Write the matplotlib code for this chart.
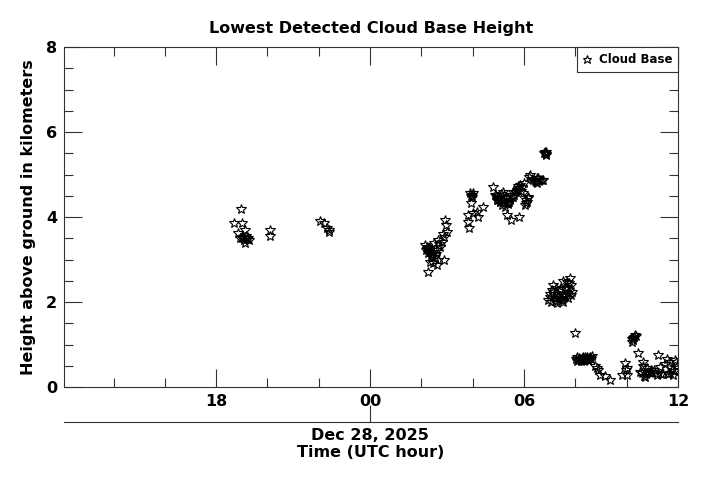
import numpy as np
import matplotlib
matplotlib.use("Agg")
import matplotlib.pyplot as plt
from matplotlib.ticker import MultipleLocator, FixedLocator

plt.rcParams['font.family'] = ['DejaVu Sans']
plt.rcParams['font.weight'] = 'bold'

# hours relative to 00 UTC Dec 28, 2025 ; cloud base height in km
hours = [
    # evening of Dec 27
    -5.29, -5.05, -5.01, -4.86, -5.13, -5.06, -4.94, -4.80, -4.71, -4.87, -4.98, -4.90,
    -5.00, -4.84, -4.76,
    -3.92, -3.90,
    -1.95, -1.79, -1.62, -1.59, -1.70,
    # 02-03 UTC
    2.27, 2.21, 2.34, 2.27, 2.40, 2.53, 2.66, 2.86, 2.73, 2.79, 2.86, 2.99, 2.92, 2.96,
    2.47, 2.60, 2.14, 2.61, 2.35, 2.30, 2.50, 2.20, 2.25, 2.42, 2.56, 2.70, 2.18, 2.38,
    2.45, 2.33, 2.64, 2.83,
    # 04 UTC
    3.90, 3.96, 4.02, 3.94, 3.83, 3.83, 3.87, 4.02, 4.16, 4.22, 4.41, 3.92, 3.98,
    # 05-06 UTC
    4.80, 4.87, 4.94, 5.06, 5.19, 5.26, 5.39, 5.45, 5.58, 5.71, 5.84, 5.97, 6.10, 6.17,
    6.04, 6.23, 6.36, 6.56, 6.69, 6.49, 5.32, 5.49, 5.82, 4.99, 5.13, 5.00, 5.10, 5.30,
    5.65, 5.90, 6.00, 6.30, 6.60, 4.90, 5.04, 5.16, 5.22, 5.36, 5.52, 5.60, 5.68, 5.76,
    5.88, 6.06, 6.14, 6.42, 6.52, 6.62, 6.72, 5.42, 5.55, 5.78, 6.08, 6.20, 6.45, 4.95,
    5.08, 5.28,
    6.82, 6.85, 6.80, 6.84, 6.78, 6.87,
    # 07-08 UTC
    7.01, 7.14, 6.95, 7.27, 7.34, 7.53, 7.66, 7.79, 7.53, 7.86, 7.73, 7.47, 7.14, 7.20,
    7.40, 7.60, 7.05, 7.82, 7.10, 7.22, 7.30, 7.38, 7.44, 7.56, 7.63, 7.70, 7.76, 7.84,
    7.00, 7.25, 7.50, 7.68, 7.35, 7.58,
    7.99,
    8.05, 8.18, 8.38, 8.50, 8.64, 8.11, 8.31, 8.25, 8.45, 8.08, 8.14, 8.22, 8.28, 8.34,
    8.42, 8.48, 8.55, 8.60, 8.02, 8.20, 8.36, 8.58,
    8.77, 8.89, 8.96, 9.16, 9.35, 8.83,
    10.26, 10.32, 10.19, 10.29, 10.22, 10.35, 10.24,
    9.93, 10.00, 9.81, 10.00, 10.45, 10.58, 10.65, 10.78, 10.84, 10.71, 11.17, 11.23,
    11.30, 11.56, 11.75, 11.88, 11.82, 10.50, 10.95, 11.40, 11.95, 9.96, 10.62, 10.74,
    10.90, 11.05, 11.10, 11.35, 11.50, 11.65, 11.70, 11.85, 11.92, 10.68, 11.00, 11.60,
]
heights = [
    3.85, 4.20, 3.85, 3.69, 3.62, 3.50, 3.54, 3.48, 3.46, 3.38, 3.52, 3.45,
    3.50, 3.55, 3.50,
    3.69, 3.56,
    3.91, 3.85, 3.69, 3.65, 3.75,
    2.71, 3.30, 3.26, 3.15, 3.11, 3.07, 2.99, 3.00, 3.30, 3.42, 3.54, 3.65, 3.93, 3.81,
    3.18, 3.22, 3.34, 2.87, 2.95, 3.20, 3.40, 3.25, 3.28, 3.05, 3.12, 3.36, 3.22, 3.10,
    2.92, 3.17, 3.45, 3.60,
    4.56, 4.52, 4.56, 4.34, 4.05, 3.89, 3.73, 4.09, 4.12, 4.01, 4.24, 4.50, 4.48,
    4.71, 4.52, 4.44, 4.36, 4.60, 4.24, 4.32, 4.40, 4.48, 4.64, 4.75, 4.56, 4.36, 4.48,
    4.28, 4.99, 4.87, 4.91, 4.87, 4.79, 4.05, 3.93, 3.99, 4.48, 4.28, 4.40, 4.55, 4.45,
    4.58, 4.70, 4.80, 4.90, 4.85, 4.50, 4.42, 4.38, 4.52, 4.30, 4.46, 4.52, 4.60, 4.68,
    4.62, 4.40, 4.45, 4.84, 4.92, 4.88, 4.86, 4.35, 4.58, 4.72, 4.32, 4.95, 4.82, 4.40,
    4.35, 4.48,
    5.51, 5.49, 5.53, 5.47, 5.50, 5.52,
    2.20, 2.40, 2.05, 1.97, 2.12, 2.20, 2.36, 2.56, 2.50, 2.24, 2.09, 2.05, 2.24, 2.10,
    2.30, 2.15, 2.00, 2.40, 2.28, 2.02, 2.18, 2.26, 2.08, 2.14, 2.30, 2.22, 2.44, 2.16,
    2.12, 2.34, 2.00, 2.48, 2.06, 2.32,
    1.28,
    0.70, 0.65, 0.64, 0.67, 0.73, 0.64, 0.67, 0.68, 0.70, 0.62, 0.68, 0.63, 0.70, 0.62,
    0.66, 0.63, 0.69, 0.66, 0.66, 0.61, 0.71, 0.71,
    0.49, 0.40, 0.28, 0.26, 0.16, 0.44,
    1.15, 1.22, 1.07, 1.18, 1.12, 1.20, 1.10,
    0.56, 0.44, 0.28, 0.28, 0.79, 0.32, 0.60, 0.44, 0.36, 0.24, 0.28, 0.75,
    0.48, 0.67, 0.40, 0.64, 0.28, 0.35, 0.40, 0.30, 0.50, 0.40, 0.50, 0.30,
    0.36, 0.40, 0.32, 0.30, 0.55, 0.60, 0.34, 0.38, 0.58, 0.26, 0.33, 0.30,
]

major_hours = [-6, 0, 6, 12]
major_labels = ['18', '00', '06', '12']
date_label = 'Dec 28, 2025'

fig = plt.figure(figsize=(7.09, 4.80), dpi=100)
ax = fig.add_axes([0.0903, 0.19375, 0.866, 0.7083])

ax.plot(hours, heights, linestyle='none', marker='*', markersize=7,
        markerfacecolor='none', markeredgecolor='black', markeredgewidth=0.8,
        label='Cloud Base')

ax.set_xlim(-11.93, 12)
ax.set_ylim(0, 8)

ax.xaxis.set_major_locator(FixedLocator(major_hours))
ax.set_xticklabels(major_labels)
ax.xaxis.set_minor_locator(MultipleLocator(2))
ax.yaxis.set_major_locator(MultipleLocator(2))
ax.yaxis.set_minor_locator(MultipleLocator(0.5))

ax.tick_params(which='both', direction='in', top=True, right=True,
               labelsize=11.5, color='#333333', width=0.8, pad=5)
ax.tick_params(which='major', length=13)
ax.tick_params(which='minor', length=6.5)
for s in ax.spines.values():
    s.set_color('#333333')
    s.set_linewidth(0.8)

ax.set_title('Lowest Detected Cloud Base Height', fontsize=11.5, fontweight='bold', pad=10)
ax.set_ylabel('Height above ground in kilometers', fontsize=11.5, fontweight='bold', labelpad=7)

# date axis below
sec = ax.secondary_xaxis(-0.103)
sec.set_xticks([0])
sec.set_xticklabels([date_label])
sec.tick_params(direction='in', length=12.5, labelsize=11.5, color='#333333', width=0.8, pad=4)
sec.spines['bottom'].set_color('#333333')
sec.spines['bottom'].set_linewidth(0.8)
sec.set_xlabel('Time (UTC hour)', fontsize=11.5, fontweight='bold', labelpad=2)

leg = ax.legend(loc='upper right', borderaxespad=0, fancybox=False, framealpha=1,
                edgecolor='#333333', prop={'size': 8.5, 'weight': 'bold'},
                handlelength=0.6, handletextpad=0.7, markerscale=0.9,
                borderpad=0.5)
leg.get_frame().set_linewidth(0.8)

fig.savefig('out.png', dpi=100)
